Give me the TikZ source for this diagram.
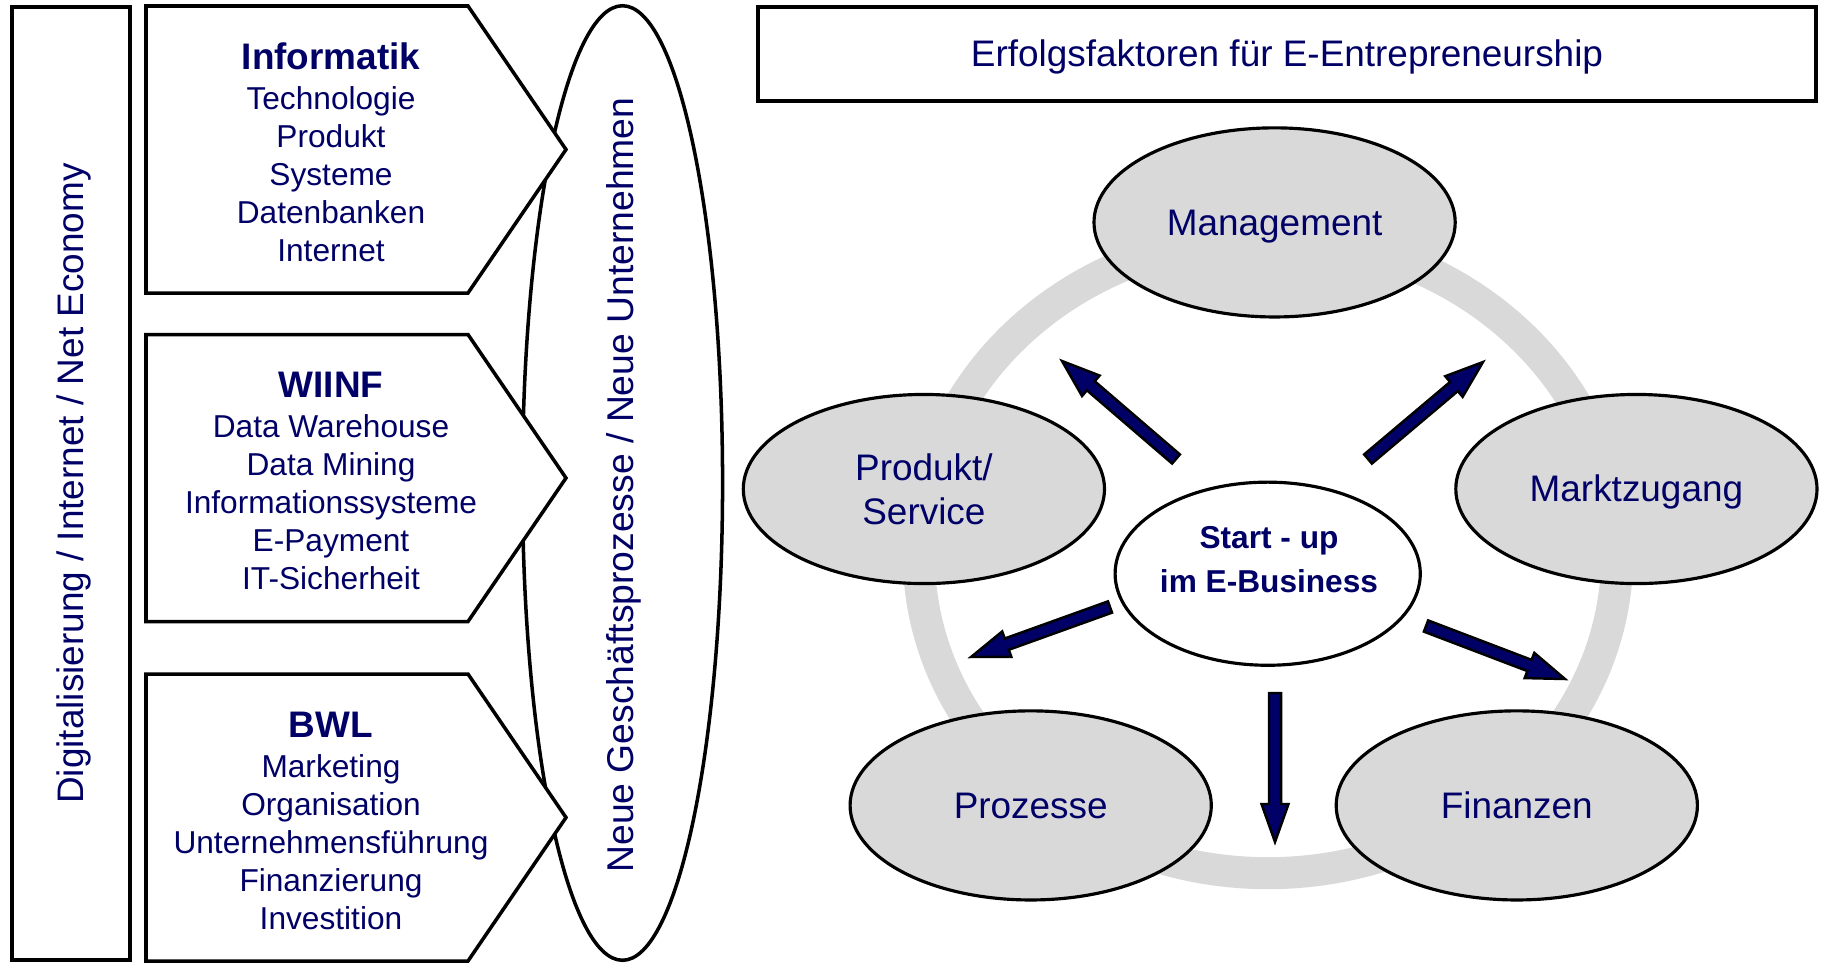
\documentclass[tikz,border=0pt]{standalone}
\usepackage{fontspec}
\setmainfont{Liberation Sans}
\usetikzlibrary{shapes.geometric,calc}
\definecolor{navy}{HTML}{000066}
\definecolor{lgray}{HTML}{D9D9D9}
\newcommand\blockarr[2]{%
  \coordinate (#1n) at ($(#2)!0.38cm!(#1)$);
  \filldraw[fill=navy,draw=black,line width=0.7pt,line join=miter]
    ($(#1)!0.06cm!90:(#2)$) -- ($(#1n)!0.06cm!90:(#2)$) -- ($(#1n)!0.135cm!90:(#2)$)
    -- (#2) -- ($(#1n)!0.135cm!-90:(#2)$) -- ($(#1n)!0.06cm!-90:(#2)$)
    -- ($(#1)!0.06cm!-90:(#2)$) -- cycle;
}
\begin{document}
\begin{tikzpicture}[x=0.01cm,y=-0.01cm,
  oval/.style={ellipse,draw=black,line width=0.9pt,fill=lgray,minimum width=3.61cm,
    minimum height=1.89cm,inner sep=0pt,text=navy,font=\fontsize{10.5}{12.5}\selectfont,align=center},
  oneline/.style={text height=9.5pt,text depth=2.2pt},
  pentagon/.style={draw=black,line width=1pt,fill=white,line join=miter},
  pentatext/.style={text=navy,align=center,font=\fontsize{9}{10.8}\selectfont},
  frame/.style={draw=black,line width=1.1pt,text=navy,font=\fontsize{10.5}{12}\selectfont,inner sep=0pt}
]
\useasboundingbox (0,0) rectangle (1821,963);

% left frame
\node[frame,oneline,rotate=90,minimum width=9.53cm,minimum height=1.18cm] (digi) at (71,483.5)
  {Digitalisierung / Internet / Net Economy};

% big vertical ellipse
\node[ellipse,draw=black,line width=1pt,minimum width=2cm,minimum height=9.54cm,inner sep=0pt] (neu) at (622.5,483) {};
\node[rotate=90,text=navy,font=\fontsize{10.6}{12}\selectfont] (neutxt) at (623.5,485)
  {Neue Geschäftsprozesse / Neue Unternehmen};

% pentagons
\draw[pentagon] (146,6) -- (468,6) -- (566,149.5) -- (468,293) -- (146,293) -- cycle;
\draw[pentagon] (146,334.5) -- (468,334.5) -- (566,478) -- (468,621.5) -- (146,621.5) -- cycle;
\draw[pentagon] (146,674) -- (468,674) -- (566,817.5) -- (468,961) -- (146,961) -- cycle;

\node[pentatext] (inf) at (331,152)
  {{\fontsize{10.5}{12}\selectfont\bfseries Informatik}\\[0.5pt] Technologie\\ Produkt\\ Systeme\\ Datenbanken\\ Internet};
\node[pentatext] (wiinf) at (331,481)
  {{\fontsize{10.5}{12}\selectfont\bfseries WIINF}\\[0.5pt] Data Warehouse\\ Data Mining\\ Informationssysteme\\ E-Payment\\ IT-Sicherheit};
\node[pentatext] (bwl) at (331,821)
  {{\fontsize{10.5}{12}\selectfont\bfseries BWL}\\[0.5pt] Marketing\\ Organisation\\ Unternehmensführung\\ Finanzierung\\ Investition};

% title
\node[frame,oneline,minimum width=10.58cm,minimum height=0.94cm] (title) at (1287,54)
  {Erfolgsfaktoren für E-Entrepreneurship};

% ring
\draw[lgray,line width=0.32cm] (1268,555) ellipse [x radius=3.49cm, y radius=3.18cm];

% factor ellipses
\node[oval,oneline] (mgmt) at (1274.6,222.4) {Management};
\node[oval] (prod) at (923.9,489) {Produkt/\\Service};
\node[oval,oneline] (markt) at (1636.4,489) {Marktzugang};
\node[oval,oneline] (proz) at (1030.7,805.4) {Prozesse};
\node[oval,oneline] (fin) at (1516.8,805.4) {Finanzen};

% center
\node[ellipse,draw=black,line width=0.9pt,fill=white,minimum width=3.05cm,minimum height=1.83cm,inner sep=0pt] (start) at (1267.7,573.7) {};
\node[text=navy,align=center,font=\fontsize{9}{12.5}\selectfont\bfseries] (starttxt) at (1269,560)
  {Start - up\\im E-Business};

% arrows
\coordinate (a1t) at (1176,459);  \coordinate (a1h) at (1062,361);
\coordinate (a2t) at (1368,459);  \coordinate (a2h) at (1483,362);
\coordinate (a3t) at (1110,607);  \coordinate (a3h) at (971,657);
\coordinate (a4t) at (1426,626);  \coordinate (a4h) at (1565,679);
\coordinate (a5t) at (1275,693);  \coordinate (a5h) at (1275,842);
\blockarr{a1t}{a1h}
\blockarr{a2t}{a2h}
\blockarr{a3t}{a3h}
\blockarr{a4t}{a4h}
\blockarr{a5t}{a5h}
\end{tikzpicture}
\end{document}
